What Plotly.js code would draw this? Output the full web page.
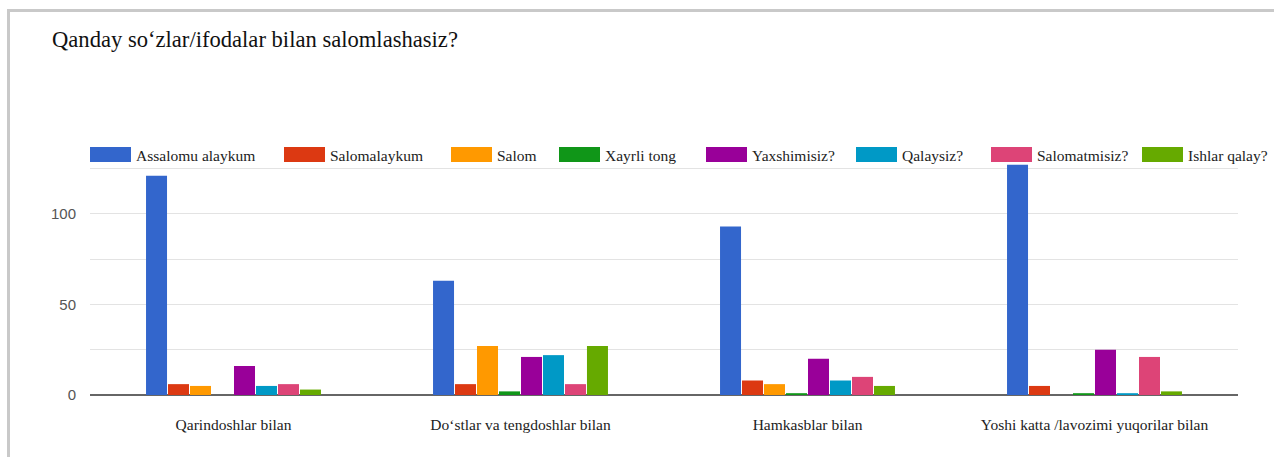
<!DOCTYPE html>
<html>
<head>
<meta charset="utf-8">
<script src="https://cdn.plot.ly/plotly-3.0.1.min.js"></script>
<style>
  html, body { margin: 0; padding: 0; background: #ffffff; overflow: hidden; }
  #chart { width: 1274px; height: 457px; position: absolute; left: 0; top: 0; }
  #frame { position: absolute; left: 7px; top: 9px; width: 1400px; height: 600px;
           border-left: 3px solid #c9c9c9; border-top: 3px solid #c9c9c9; pointer-events: none; }
  #chart .legendlines path.js-line { stroke-width: 15px !important; }
</style>
</head>
<body>
<div id="chart"></div>
<div id="frame"></div>
<script>
// ---- data ----
const categories = [
  "Qarindoshlar bilan",
  "Do\u2018stlar va tengdoshlar bilan",
  "Hamkasblar bilan",
  "Yoshi katta /lavozimi yuqorilar bilan"
];
const seriesNames = ["Assalomu alaykum", "Salomalaykum", "Salom", "Xayrli tong",
                     "Yaxshimisiz?", "Qalaysiz?", "Salomatmisiz?", "Ishlar qalay?"];
const assalomuAlaykum = [121, 63, 93, 127];
const salomalaykum   = [6, 6, 8, 5];
const salom          = [5, 27, 6, 0];
const xayrliTong     = [0, 2, 1, 1];
const yaxshimisiz    = [16, 21, 20, 25];
const qalaysiz       = [5, 22, 8, 1];
const salomatmisiz   = [6, 6, 10, 21];
const ishlarQalay    = [3, 27, 5, 2];
const yTickValues = [0, 50, 100];
const yTickLabels = ["0", "50", "100"];

const seriesValues = [assalomuAlaykum, salomalaykum, salom, xayrliTong,
                      yaxshimisiz, qalaysiz, salomatmisiz, ishlarQalay];
const colors = ["#3366cc", "#dc3912", "#ff9900", "#109618",
                "#990099", "#0099c6", "#dd4477", "#66aa00"];

// ---- layout helpers ----
const W = 1274, H = 457;
const serif = '"Liberation Serif", "Times New Roman", Times, serif';
const sans = '"Liberation Sans", Arial, sans-serif';
const legendLeftPx = [85, 279, 446, 554, 701, 851, 986, 1137];
const legendCenterPx = 155;

const traces = [];
const layout = {
  width: W, height: H,
  paper_bgcolor: "#ffffff", plot_bgcolor: "#ffffff",
  margin: { l: 90, r: 36, t: 163, b: 62, autoexpand: false },
  title: {
    text: "Qanday so\u2018zlar/ifodalar bilan salomlashasiz?",
    font: { family: serif, size: 22.6, color: "#111111" },
    xref: "container", yref: "container",
    x: 52 / W, xanchor: "left",
    y: 1 - 39 / H, yanchor: "middle"
  },
  barmode: "group",
  bargap: 0.387,
  bargroupgap: 0.045,
  showlegend: true,
  xaxis: {
    type: "category",
    showgrid: false, zeroline: false, showline: false, ticks: "",
    tickfont: { family: serif, size: 15.5, color: "#222222" },
    ticklabelstandoff: 18,
    fixedrange: true
  },
  yaxis: {
    range: [0, 128],
    tickvals: yTickValues, ticktext: yTickLabels,
    showgrid: true, gridcolor: "#e3e3e3", gridwidth: 1,
    minor: { dtick: 25, tick0: 0, showgrid: true, gridcolor: "#e3e3e3", gridwidth: 1, ticks: "" },
    zeroline: true, zerolinecolor: "#666666", zerolinewidth: 2,
    showline: false, ticks: "",
    tickfont: { family: sans, size: 15, color: "#555555" },
    ticklabelstandoff: 13,
    fixedrange: true
  }
};

seriesNames.forEach((name, i) => {
  const legendId = i === 0 ? "legend" : "legend" + (i + 1);
  traces.push({
    type: "bar",
    name: name,
    x: categories,
    y: seriesValues[i],
    marker: { color: colors[i], line: { width: 0 } },
    showlegend: false,
    legendgroup: name,
    hoverinfo: "skip"
  });
  traces.push({
    type: "scatter",
    mode: "lines",
    name: name,
    x: [null], y: [null],
    line: { color: colors[i], width: 15 },
    legend: legendId,
    legendgroup: name,
    showlegend: true,
    hoverinfo: "skip"
  });
  layout[legendId] = {
    xref: "container", yref: "container",
    x: legendLeftPx[i] / W, xanchor: "left",
    y: 1 - legendCenterPx / H, yanchor: "middle",
    orientation: "h",
    bgcolor: "rgba(0,0,0,0)", borderwidth: 0,
    itemwidth: 41,
    font: { family: serif, size: 15.5, color: "#222222" }
  };
});

Plotly.newPlot("chart", traces, layout, { staticPlot: true, displayModeBar: false });
</script>
</body>
</html>
